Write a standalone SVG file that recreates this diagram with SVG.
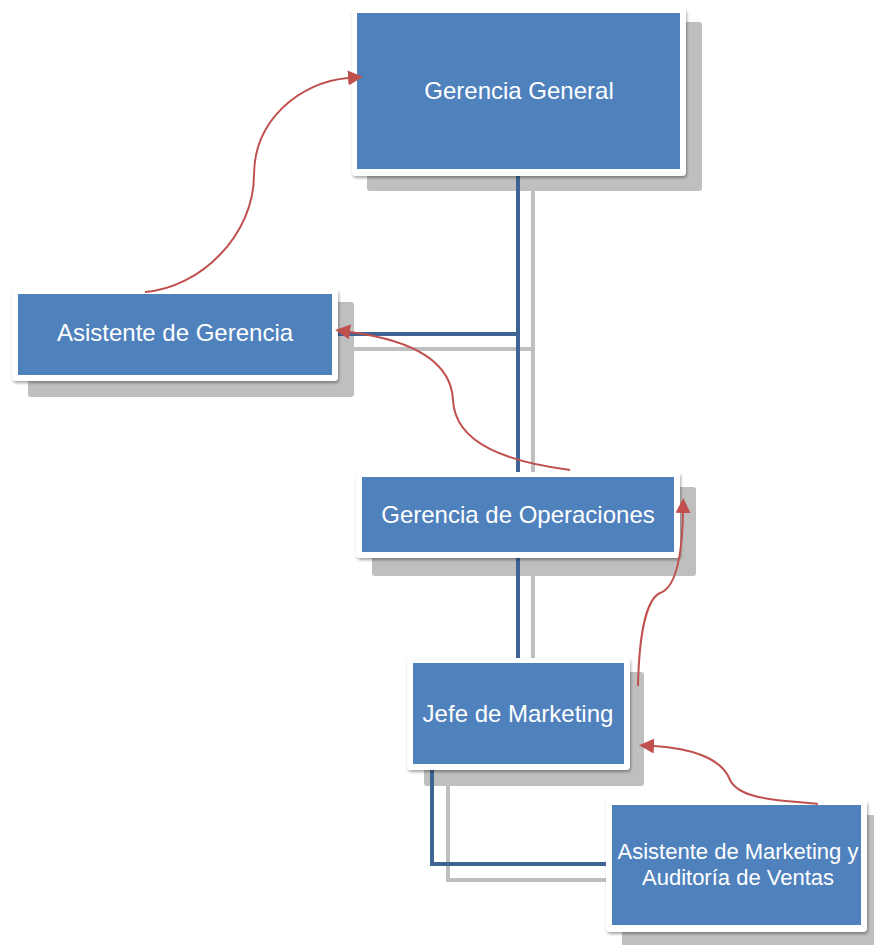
<svg xmlns="http://www.w3.org/2000/svg" width="874" height="945" viewBox="0 0 874 945">
  <defs>
    <filter id="ds" x="-5%" y="-5%" width="115%" height="120%">
      <feDropShadow dx="1" dy="2" stdDeviation="1.5" flood-color="#000" flood-opacity="0.35"/>
    </filter>
    <marker id="ah" markerWidth="16" markerHeight="16" refX="0" refY="7.5" orient="auto" markerUnits="userSpaceOnUse">
      <path d="M0,0 L15,7.5 L0,15 Z" fill="#c0504d"/>
    </marker>
    <style>
      .shadow { fill: #bfbfbf; }
      .frame { fill: #ffffff; filter: url(#ds); }
      .box { fill: #4f81bd; }
      .lbl { font-family: "Liberation Sans", Arial, sans-serif; font-size: 24px; fill: #ffffff; text-anchor: middle; }
      .lbl-s { font-size: 22px; }
      .cb { stroke: #3e6496; stroke-width: 4; fill: none; }
      .cg { stroke: #bfbfbf; stroke-width: 4; fill: none; }
      .arr { stroke: #c0504d; stroke-width: 2; fill: none; marker-end: url(#ah); }
    </style>
  </defs>

  <rect width="874" height="945" fill="#ffffff"/>

  <!-- shadow layer -->
  <g id="shadows">
    <rect class="shadow" x="367" y="22" width="335" height="169" rx="3"/>
    <rect class="shadow" x="28" y="302" width="326" height="95" rx="3"/>
    <rect class="shadow" x="372" y="487" width="324" height="89" rx="3"/>
    <rect class="shadow" x="424" y="672" width="220" height="114" rx="3"/>
    <rect class="shadow" x="622" y="815" width="260" height="140" rx="3"/>
  </g>

  <!-- connectors -->
  <g id="connectors">
    <path class="cg" d="M533,191 V487"/>
    <path class="cg" d="M354,349 H533"/>
    <path class="cg" d="M533,576 V672"/>
    <path class="cg" d="M448,786 V880 H622"/>
    <path class="cb" d="M518,176 V472"/>
    <path class="cb" d="M338,334 H518"/>
    <path class="cb" d="M518,558 V658"/>
    <path class="cb" d="M432,770 V864 H606"/>
  </g>

  <g id="gerencia-general">
    <rect class="frame" x="352" y="8" width="334" height="168" rx="4"/>
    <rect class="box" x="357" y="13" width="323" height="156"/>
    <text class="lbl" x="519" y="99">Gerencia General</text>
  </g>

  <g id="asistente-gerencia">
    <rect class="frame" x="12" y="289" width="326" height="92" rx="4"/>
    <rect class="box" x="18" y="294" width="314" height="81"/>
    <text class="lbl" x="175" y="341">Asistente de Gerencia</text>
  </g>

  <g id="gerencia-operaciones">
    <rect class="frame" x="356" y="472" width="324" height="86" rx="4"/>
    <rect class="box" x="362" y="477" width="312" height="75"/>
    <text class="lbl" x="518" y="523">Gerencia de Operaciones</text>
  </g>

  <g id="jefe-marketing">
    <rect class="frame" x="407" y="658" width="223" height="112" rx="4"/>
    <rect class="box" x="413" y="663" width="211" height="101"/>
    <text class="lbl" x="518" y="722">Jefe de Marketing</text>
  </g>

  <g id="asistente-marketing">
    <rect class="frame" x="606" y="800" width="261" height="132" rx="4"/>
    <rect class="box" x="612" y="805" width="249" height="120"/>
    <text class="lbl lbl-s" x="738" y="859">Asistente de Marketing y</text>
    <text class="lbl lbl-s" x="738" y="885">Auditoría de Ventas</text>
  </g>

  <!-- red reporting arrows -->
  <g id="arrows">
    <path class="arr" d="M145,292 C200,288 254,235 254,175 C254,120 300,82 348,78"/>
    <path class="arr" d="M570,470 C510,462 455,445 453,400 C451,360 410,340 350,332"/>
    <path class="arr" d="M638,686 C639,640 645,600 660,593 C675,588 682,560 683,513"/>
    <path class="arr" d="M818,804 C780,800 740,800 730,780 C722,758 690,748 654,746"/>
  </g>
</svg>
